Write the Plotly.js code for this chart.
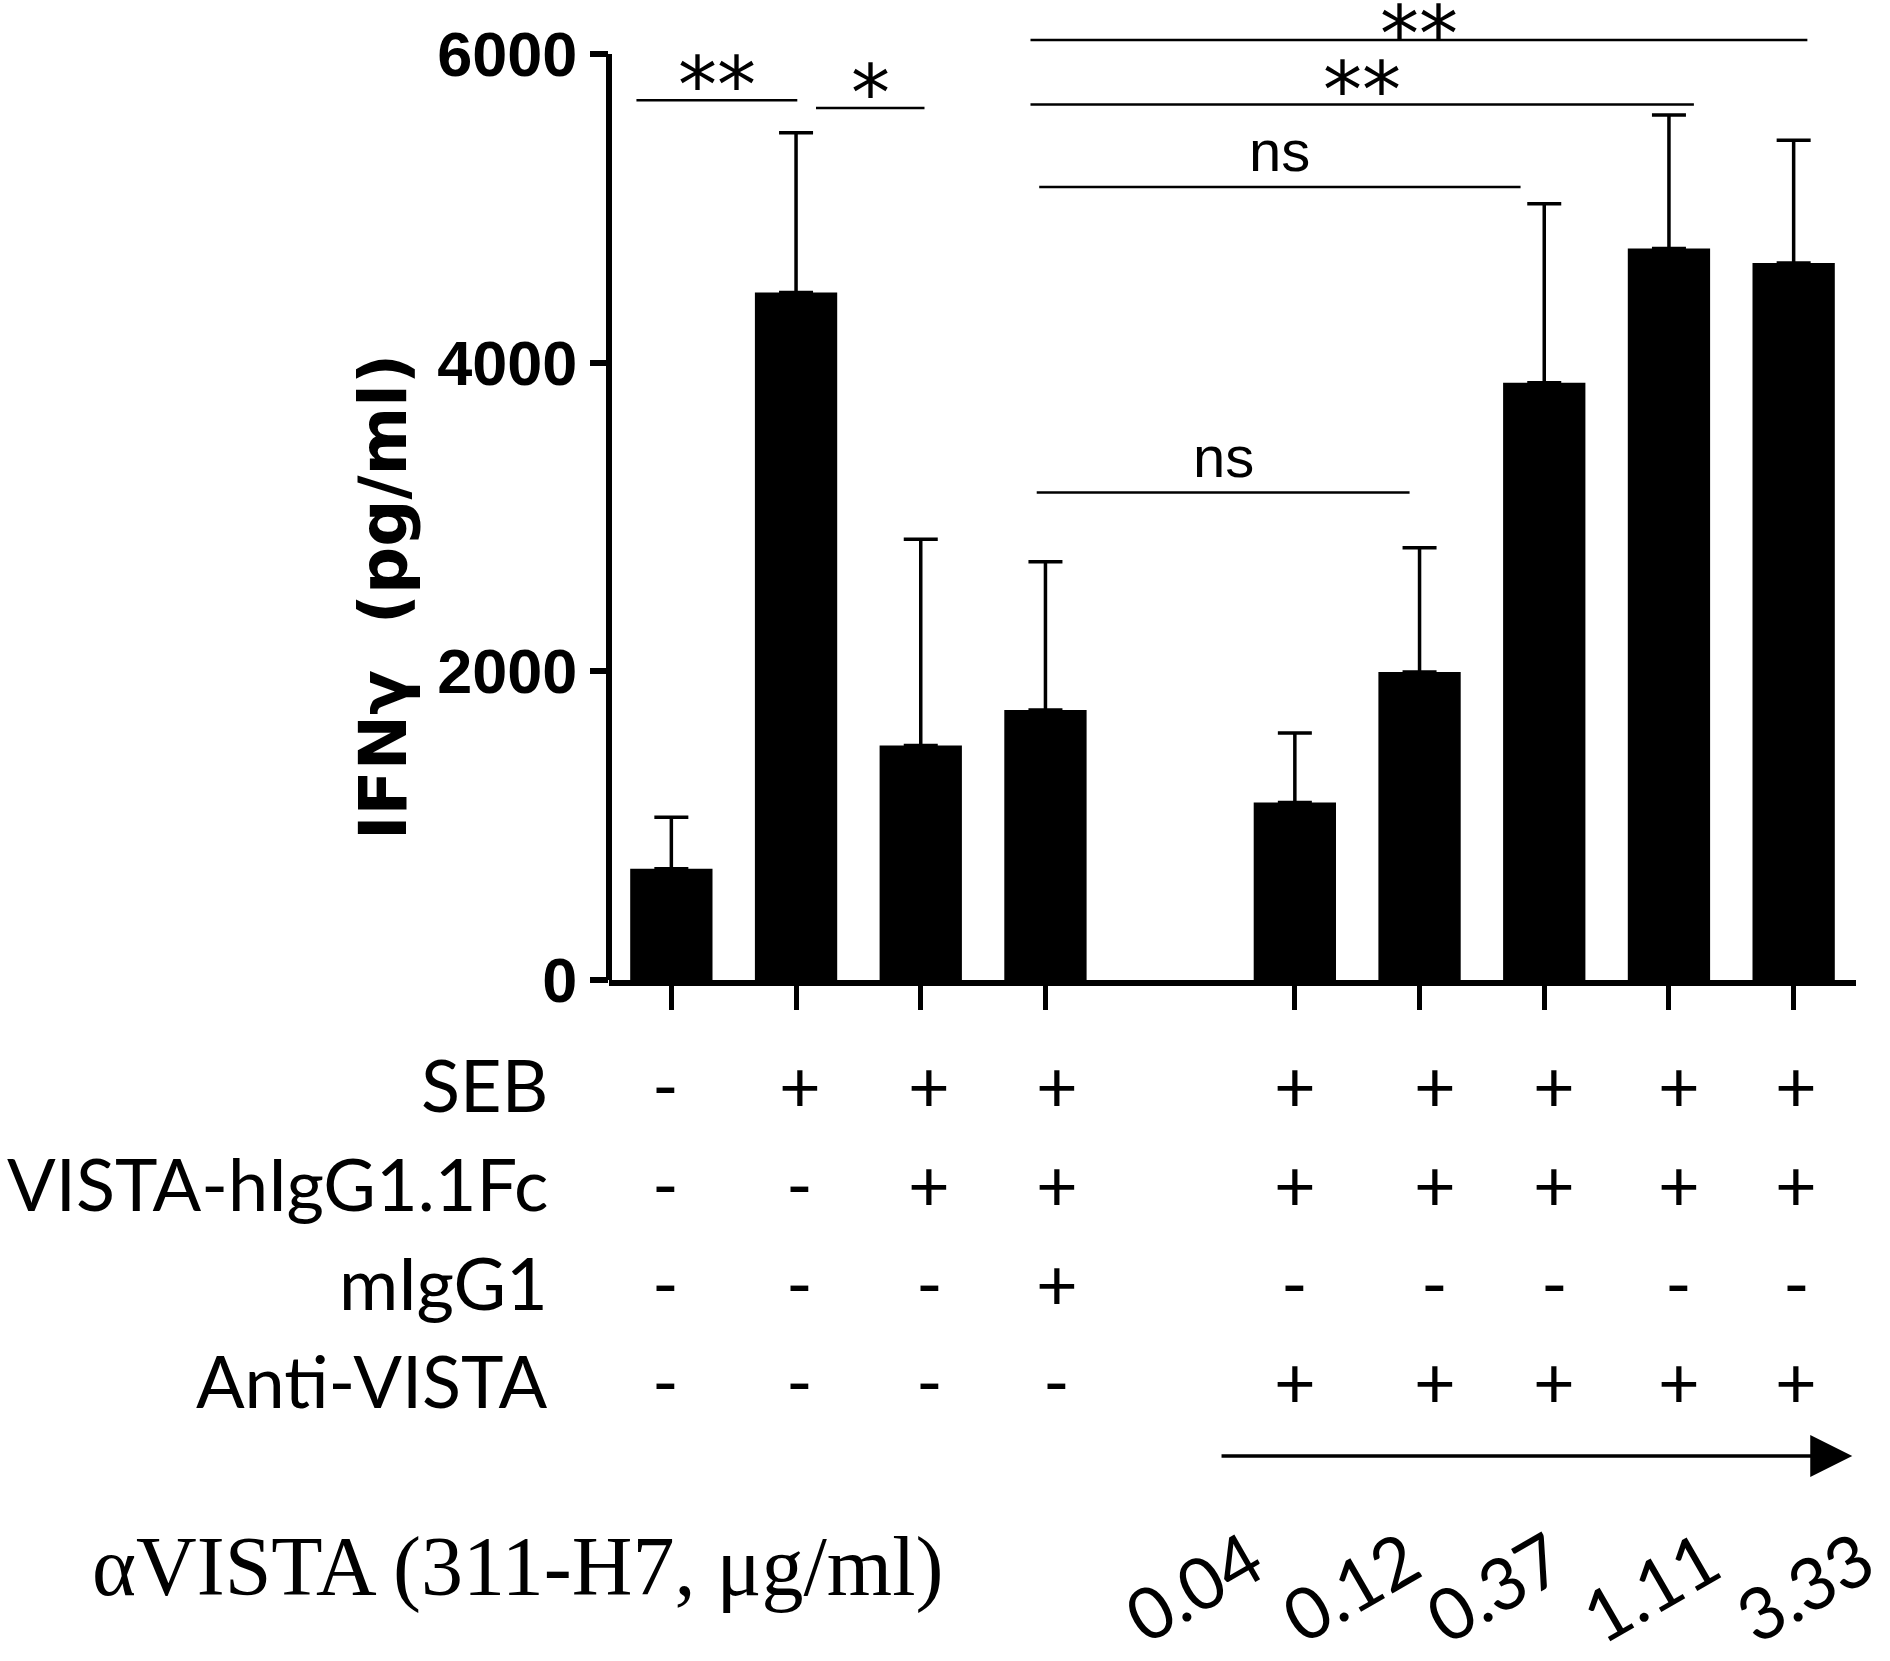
<!DOCTYPE html>
<html>
<head>
<meta charset="utf-8">
<script src="https://cdn.plot.ly/plotly-3.0.1.min.js"></script>
<style>
  html, body { margin: 0; padding: 0; background: #fff; }
  #chart { width: 1890px; height: 1661px; }
</style>
</head>
<body>
<div id="chart"></div>
<script>
// bar positions (slot 4 is left empty)
var xPos = [0, 1, 2, 3, 5, 6, 7, 8, 9];
var ifng = [720, 4455, 1520, 1750, 1150, 1995, 3870, 4740, 4645];
var ifngSd = [335, 1035, 1335, 960, 450, 805, 1160, 865, 795];

// condition table
var rowNames = ['SEB', 'VISTA-hIgG1.1Fc', 'mIgG1', 'Anti-VISTA'];
var rowSEB = ['-', '+', '+', '+', '+', '+', '+', '+', '+'];
var rowVISTA = ['-', '-', '+', '+', '+', '+', '+', '+', '+'];
var rowMIgG1 = ['-', '-', '-', '+', '-', '-', '-', '-', '-'];
var rowAnti = ['-', '-', '-', '-', '+', '+', '+', '+', '+'];
var concLabels = ['0.04', '0.12', '0.37', '1.11', '3.33'];

// significance brackets: [x0, x1, y, label]
var sigBars = [
  [-0.28, 1.01, 5700, '**'],
  [1.16, 2.03, 5650, '*'],
  [2.88, 9.11, 6090, '**'],
  [2.88, 8.2, 5672, '**'],
  [2.95, 6.81, 5138, 'ns'],
  [2.93, 5.92, 3158, 'ns']
];

var YMAX = 6155;
var plotH = 950;
var XMIN = -0.5, XMAX = 9.5;
// helpers to place texts outside the plot area (paper coords)
function px(x) { return (x - XMIN) / (XMAX - XMIN); }
function py(pxBelow) { return -pxBelow / plotH; }

// where the table symbols and dose labels sit (category units)
var tableCols = [-0.05, 1.03, 2.07, 3.09, 5.0, 6.12, 7.08, 8.08, 9.02];
var concCols = [4.18, 5.44, 6.6, 7.85, 9.08];

var trace = {
  x: xPos,
  y: ifng,
  type: 'bar',
  width: 0.66,
  marker: { color: '#000', line: { width: 0 } },
  error_y: {
    type: 'data',
    array: ifngSd,
    arrayminus: ifngSd.map(function () { return 0; }),
    symmetric: false,
    color: '#000',
    thickness: 3.5,
    width: 17
  },
  cliponaxis: false,
  hoverinfo: 'none'
};

var shapes = [
  // y axis line, stops at 6000
  { type: 'line', xref: 'paper', yref: 'paper', x0: 0, x1: 0, y0: 0, y1: 6000 / YMAX,
    line: { color: '#000', width: 6 } }
];
var annotations = [];

sigBars.forEach(function (s, k) {
  shapes.push({ type: 'line', xref: 'paper', yref: 'paper', x0: px(s[0]), x1: px(s[1]),
    y0: s[2] / YMAX, y1: s[2] / YMAX, line: { color: '#000', width: 2.5 } });
  var isStar = s[3].indexOf('*') >= 0;
  annotations.push({
    xref: 'paper', yref: 'paper', x: px((s[0] + s[1]) / 2), y: s[2] / YMAX,
    xanchor: 'center', yanchor: 'bottom',
    yshift: isStar ? (k === 2 ? -41 : -32) : 2,
    text: s[3], showarrow: false,
    font: isStar ? { family: 'DejaVu Sans, sans-serif', size: 78, color: '#000' }
                 : { family: 'Liberation Sans, Arial, sans-serif', size: 58, color: '#000' }
  });
});

// table
var rows = [rowSEB, rowVISTA, rowMIgG1, rowAnti];
var rowOffsets = [104, 203, 302, 400];
var tableFont = { family: 'Lato, sans-serif', size: 72, color: '#000' };
rows.forEach(function (r, k) {
  annotations.push({
    xref: 'paper', yref: 'paper', x: px(-0.97), y: py(rowOffsets[k]), xanchor: 'right', yanchor: 'middle',
    text: rowNames[k], showarrow: false, font: tableFont
  });
  r.forEach(function (sym, i) {
    annotations.push({
      xref: 'paper', yref: 'paper', x: px(tableCols[i]), y: py(rowOffsets[k]), xanchor: 'center', yanchor: 'middle',
      text: sym, showarrow: false, font: tableFont
    });
  });
});

// dose arrow
annotations.push({
  xref: 'paper', yref: 'paper', axref: 'pixel', ayref: 'pixel',
  x: px(9.47), y: py(476), ax: -(9.47 - 4.4) * 124.7, ay: 0,
  text: '', showarrow: true, arrowhead: 2, arrowsize: 2.4, arrowwidth: 3.5, arrowcolor: '#000'
});

annotations.push({
  xref: 'paper', yref: 'paper', x: px(-1.23), y: py(587), xanchor: 'center', yanchor: 'middle',
  text: '\u03b1VISTA (311-H7, \u03bcg/ml)', showarrow: false,
  font: { family: 'Liberation Serif, Times New Roman, serif', size: 84, color: '#000' }
});

concLabels.forEach(function (c, i) {
  annotations.push({
    xref: 'paper', yref: 'paper', x: px(concCols[i]), y: py(606), xanchor: 'center', yanchor: 'middle',
    text: c, textangle: -30, showarrow: false, font: { family: 'Lato, sans-serif', size: 72, color: '#000' }
  });
});

// y title
annotations.push({
  xref: 'paper', yref: 'paper', x: 0, y: 0.5, xshift: -226, yshift: -92, xanchor: 'center', yanchor: 'middle',
  text: 'IFN\u03b3  (pg/ml)', textangle: -90, showarrow: false,
  font: { family: 'DejaVu Sans, sans-serif', size: 66, weight: 'bold', color: '#000' }
});

var layout = {
  width: 1890,
  height: 1661,
  margin: { l: 609, r: 34, t: 30, b: 681 },
  paper_bgcolor: '#fff',
  plot_bgcolor: '#fff',
  showlegend: false,
  xaxis: {
    range: [XMIN, XMAX],
    tickvals: xPos,
    showticklabels: false,
    ticks: 'outside',
    ticklen: 24,
    tickwidth: 5,
    tickcolor: '#000',
    showline: true,
    linewidth: 6,
    linecolor: '#000',
    showgrid: false,
    zeroline: false,
    fixedrange: true
  },
  yaxis: {
    range: [0, YMAX],
    tickvals: [0, 2000, 4000, 6000],
    ticks: 'outside',
    ticklen: 18,
    tickwidth: 6,
    tickcolor: '#000',
    tickfont: { family: 'Liberation Sans Narrow, Arial Narrow, sans-serif', size: 63, weight: 'bold', color: '#000' },
    showline: false,
    showgrid: false,
    zeroline: false,
    fixedrange: true
  },
  shapes: shapes,
  annotations: annotations
};

Plotly.newPlot('chart', [trace], layout, { staticPlot: true });
</script>
</body>
</html>
